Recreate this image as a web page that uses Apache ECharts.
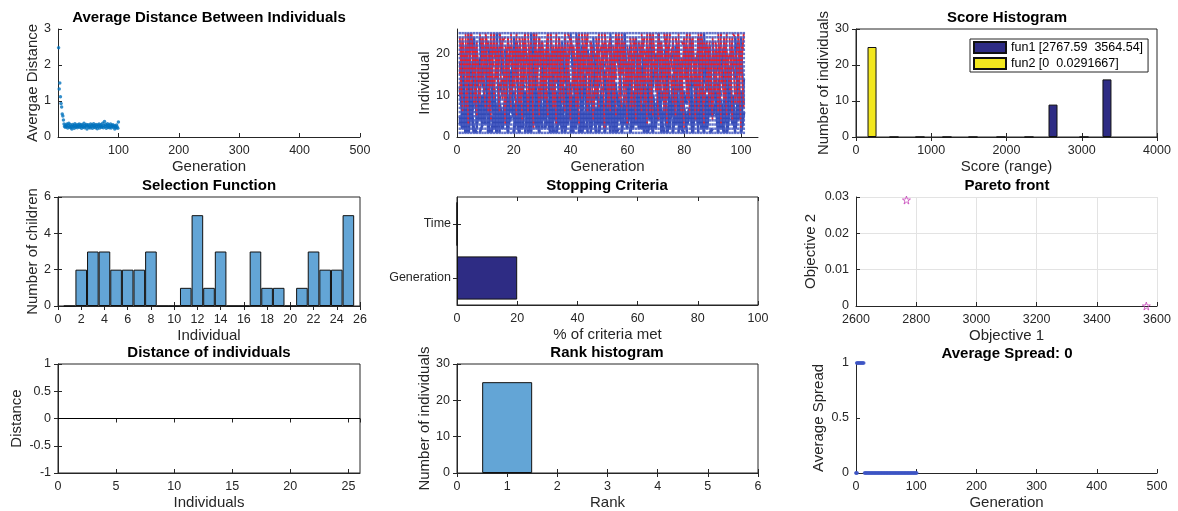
<!DOCTYPE html>
<html><head><meta charset="utf-8">
<script src="https://cdn.jsdelivr.net/npm/echarts@6/dist/echarts.min.js"></script>
<style>html,body{margin:0;padding:0;background:#fff}#c{width:1178px;height:511px}</style>
</head><body><div id="c"></div>
<script>
// ---------- DATA ----------
// Panel 1: average distance between individuals, generations 1..100
const avgDist = [2.48,1.33,1.50,1.12,0.93,0.83,0.64,0.58,0.47,0.36,
0.30,0.27,0.33,0.29,0.36,0.25,0.31,0.38,0.28,0.34,
0.26,0.30,0.22,0.35,0.29,0.31,0.24,0.37,0.28,0.33,
0.30,0.26,0.34,0.29,0.36,0.27,0.31,0.35,0.24,0.30,
0.33,0.28,0.38,0.26,0.32,0.29,0.35,0.22,0.31,0.34,
0.27,0.30,0.25,0.36,0.29,0.33,0.24,0.31,0.37,0.28,
0.32,0.26,0.35,0.30,0.23,0.33,0.29,0.36,0.25,0.31,
0.34,0.27,0.30,0.38,0.26,0.32,0.43,0.29,0.35,0.24,
0.31,0.37,0.28,0.33,0.26,0.30,0.36,0.25,0.32,0.29,
0.34,0.27,0.31,0.22,0.30,0.26,0.33,0.28,0.24,0.42];

// Panel 2: genealogy (parent at generation g -> child at generation g+1), g = 1..100
const redA_p = [24,21,25,19,23,22,18,25,20,24,17,23,25,21,19,24,22,20,25,18,23,21,24,19,25,22,17,20,24,23,21,25,18,22,19,24,20,25,23,17,21,24,22,19,25,20,23,18,24,21,25,22,19,23,20,24,17,25,21,22,18,24,23,20,25,19,22,21,24,18,25,23,20,22,17,24,21,25,19,23,22,20,24,18,25,21,23,19,22,24,20,25,17,23,21,24,22,18,25,20];
const redA_c = [6,12,3,9,15,5,8,20,7,11,4,10,14,6,9,3,18,7,12,5,8,4,13,6,10,2,16,5,9,12,5,11,7,3,14,8,6,10,4,17,7,3,9,12,6,8,4,15,7,10,2,11,6,9,5,19,7,8,3,13,7,4,10,6,16,3,9,5,12,4,9,6,3,14,8,5,11,6,2,9,5,13,4,8,10,3,17,7,4,11,6,3,9,5,12,4,8,15,2,7];
const redB_p = [10,15,7,22,11,8,18,9,13,25,6,20,9,14,12,23,7,16,10,12,19,8,10,24,6,15,11,21,8,11,9,17,13,7,22,9,12,14,25,7,12,8,19,10,16,8,23,6,10,13,20,14,7,11,9,24,9,17,12,13,7,21,10,15,10,8,18,6,25,11,11,16,8,9,19,13,7,22,10,14,9,12,17,12,6,24,8,15,10,7,21,7,13,9,18,11,25,8,8,16];
const redB_c = [22,18,25,16,20,23,15,24,19,21,25,17,23,20,14,24,19,22,16,25,18,21,24,15,22,20,25,17,23,19,24,16,21,25,18,22,14,20,23,17,19,25,15,22,24,18,21,16,25,20,23,17,22,19,25,15,24,20,18,21,16,24,20,23,17,25,19,22,15,24,21,19,25,18,22,16,23,14,24,20,25,22,17,24,19,21,15,23,20,18,17,23,20,25,16,22,24,19,21,25];
const redC_p = [15,23,19,13,25,17,21,14,24,18,20,12,22,16,25,19,14,23,17,21,13,24,18,22,15,20,25,12,19,23,17,14,25,21,13,23,18,20,16,24,22,19,12,25,18,15,23,21,14,20,16,25,20,13,22,18,24,15,21,12,24,17,14,23,19,21,13,25,18,16,19,22,25,15,20,12,24,17,23,14,14,20,23,18,12,25,16,22,13,21,23,15,19,24,17,13,21,18,25,22];
const redC_c = [24,16,21,25,18,22,13,20,15,23,14,25,17,22,19,12,24,18,21,16,22,13,25,17,23,19,15,24,20,14,25,20,15,18,24,13,22,16,23,19,13,23,21,16,25,20,14,18,24,22,21,18,24,19,14,25,16,23,12,20,15,22,19,13,24,17,25,20,16,23,23,14,18,25,16,21,19,13,22,25,20,24,12,21,25,16,23,14,19,17,18,25,22,14,20,24,17,23,15,21];
const blueA_p = [5,2,9,1,7,11,3,8,4,10,6,1,12,3,8,2,10,5,7,1,4,9,2,11,6,1,8,3,12,5,2,7,10,4,1,9,5,12,3,6,8,3,1,6,11,4,2,9,7,1,10,5,3,12,2,7,9,1,6,4,1,11,6,3,8,2,12,5,10,3,7,4,9,1,5,11,3,8,2,6,3,10,1,7,4,12,6,2,9,5,11,2,8,5,1,6,10,4,7,3];
const blueA_c = [2,8,4,10,1,6,12,3,9,5,11,4,1,7,3,9,2,12,5,8,1,6,10,3,8,12,4,7,2,9,9,3,1,11,6,2,8,4,10,1,4,12,7,2,9,5,11,1,3,8,2,9,6,1,11,4,3,10,8,12,7,3,10,12,1,6,4,9,2,11,10,1,5,8,12,3,7,2,11,4,6,2,11,4,9,1,3,10,5,8,1,9,4,12,7,10,2,6,11,3];
const blueB_p = [12,20,3,17,7,24,10,1,15,22,9,18,2,25,13,6,21,4,16,11,23,5,14,1,19,8,25,11,3,17,6,22,10,16,2,20,13,24,7,1,18,9,24,4,14,21,1,12,19,6,3,16,11,22,8,1,19,5,25,10,14,2,23,8,17,12,4,21,9,20,25,11,6,19,3,15,22,1,13,7,10,21,4,16,24,2,11,18,6,23,5,13,20,9,1,17,7,24,14,2];
const blueB_c = [4,1,14,6,18,2,9,3,11,1,16,3,7,1,10,5,2,13,4,8,1,12,5,9,3,15,2,6,19,4,11,2,17,3,8,1,6,4,13,10,2,7,3,15,1,9,5,20,3,12,8,4,1,6,13,2,10,3,7,16,3,11,2,17,5,1,14,6,4,9,1,8,15,2,10,4,3,12,6,1,13,4,7,1,3,18,2,9,5,10,6,2,12,4,16,3,1,8,5,14];
const blueC_p = [3,7,1,9,5,2,8,4,10,6,1,5,9,2,7,4,10,3,6,8,7,2,5,10,1,8,3,9,4,6,9,4,2,6,10,3,7,1,5,8,2,8,6,1,4,10,5,7,3,9,6,1,10,4,8,2,9,5,7,3,4,9,3,7,2,6,1,10,8,5,8,3,7,5,9,1,4,6,2,10,5,10,4,8,3,7,2,9,1,6,10,6,8,3,6,9,5,2,4,1];
const blueC_c = [6,2,8,4,9,1,5,10,3,7,9,3,6,10,2,8,1,5,7,4,2,8,10,5,7,3,9,1,6,4,5,1,7,9,3,6,2,8,10,4,8,4,1,6,10,2,7,3,9,5,3,9,5,8,1,7,4,6,2,10,10,5,7,2,6,9,3,1,8,4,4,7,2,9,5,10,6,3,1,8,7,1,9,3,8,4,10,5,2,6,5,3,1,7,4,8,2,9,10,6];
const blueD_p = [18,13,22,25,15,20,12,24,17,21,23,16,19,12,25,14,21,18,13,24,15,22,13,20,17,25,19,14,23,16,20,12,24,17,21,15,23,13,18,25,14,25,18,22,13,19,16,24,20,12,22,17,14,25,19,12,21,16,23,15,13,20,24,16,22,18,14,25,12,19,25,15,21,13,18,23,17,20,16,22,17,24,12,19,14,21,25,13,22,18,21,14,16,23,20,13,18,22,15,24];
const blueD_c = [10,17,6,14,21,8,19,12,5,16,13,7,20,11,15,9,18,6,22,14,8,16,12,19,5,14,10,21,13,7,17,11,9,15,7,20,13,16,8,12,6,14,19,10,17,12,21,9,15,18,11,20,8,13,16,6,15,18,10,22,19,9,14,21,12,17,7,13,20,11,14,12,18,8,20,10,16,5,19,13,9,18,15,6,22,13,11,20,7,17,16,10,21,12,9,18,14,7,20,8];
const genealogyGenerations = 101;
const populationSize = 25;

// Panel 3: score histogram
const fun1Name = 'fun1 [2767.59  3564.54]';
const fun2Name = 'fun2 [0  0.0291667]';
const fun1BinX = [505, 850, 1209, 1555, 1927, 2299, 2618, 3030, 3335];
const fun1Counts = [0, 0, 0, 0, 0, 0, 9, 0, 16];
const fun2BinX = [213];
const fun2Counts = [25];

// Panel 4: selection function
const selIndividuals = [1,2,3,4,5,6,7,8,9,10,11,12,13,14,15,16,17,18,19,20,21,22,23,24,25];
const selChildren    = [0,2,3,3,2,2,2,3,0,0,1,5,1,3,0,0,3,1,1,0,1,3,2,2,5];

// Panel 5: stopping criteria
const stopCriteria = ['Generation', 'Time'];
const stopPercent = [20, 0];

// Panel 6: pareto front
const paretoObj1 = [2767.59, 3564.54];
const paretoObj2 = [0.0291667, 0];

// Panel 7: distance of individuals
const distIndividuals = [1,2,3,4,5,6,7,8,9,10,11,12,13,14,15,16,17,18,19,20,21,22,23,24,25];
const distValues = [0,0,0,0,0,0,0,0,0,0,0,0,0,0,0,0,0,0,0,0,0,0,0,0,0];

// Panel 8: rank histogram
const rankValues = [1];
const rankCounts = [25];

// Panel 9: average spread
const spreadGens = [0,1,2,3,4,5,6,7,8,9,10,11,12,13,14,15,16,17,18,19,20,21,22,23,24,25,26,27,28,29,30,31,32,33,34,35,36,37,38,39,40,41,42,43,44,45,46,47,48,49,50,51,52,53,54,55,56,57,58,59,60,61,62,63,64,65,66,67,68,69,70,71,72,73,74,75,76,77,78,79,80,81,82,83,84,85,86,87,88,89,90,91,92,93,94,95,96,97,98,99,100,101];
const spreadVals = [0,1,1,1,1,1,1,1,1,1,1,1,1,1,0,0,0,0,0,0,0,0,0,0,0,0,0,0,0,0,0,0,0,0,0,0,0,0,0,0,0,0,0,0,0,0,0,0,0,0,0,0,0,0,0,0,0,0,0,0,0,0,0,0,0,0,0,0,0,0,0,0,0,0,0,0,0,0,0,0,0,0,0,0,0,0,0,0,0,0,0,0,0,0,0,0,0,0,0,0,0,0];
const spreadLowStart = [0, 1, 2];

// ---------- CHART ----------
const FONT = 'Liberation Sans, Arial, sans-serif';
const AX = '#262626';
const TICKFS = 12.5;
const grids = [
  {left:58, top:29, width:302, height:108},
  {left:457, top:29, width:301, height:108},
  {left:856, top:29, width:301, height:108},
  {left:58, top:197, width:302, height:109},
  {left:457, top:197, width:301, height:108},
  {left:856, top:197, width:301, height:109},
  {left:58, top:364, width:302, height:109},
  {left:457, top:364, width:301, height:109},
  {left:856, top:363, width:301, height:111}
];
const boxed = [false,false,true,true,true,false,true,true,false];
const gridOpts = grids.map((g,i)=>Object.assign({show:boxed[i], borderColor:AX, borderWidth:1, backgroundColor:'transparent', containLabel:false}, g));

const plain = v => String(Math.round(v*1000)/1000);
function lab(extra){ return Object.assign({fontFamily:FONT,fontSize:TICKFS,color:AX,margin:7,formatter:plain}, extra||{}); }
function ax(extra){
  return Object.assign({
    type:'value', nameLocation:'middle',
    nameTextStyle:{fontFamily:FONT,fontSize:15,color:AX},
    axisLine:{show:true,onZero:false,lineStyle:{color:AX,width:1}},
    axisTick:{show:true,inside:true,length:4,lineStyle:{color:AX}},
    axisLabel:lab(),
    splitLine:{show:false}
  }, extra);
}
const yl = (gap)=>({nameGap:gap, nameRotate:90});
const gridLine = {show:true,lineStyle:{color:'#E3E3E3',width:1}};

const xAxes = [
  ax({gridIndex:0,min:0,max:500,interval:100,name:'Generation',nameGap:22,axisLabel:lab({formatter:v=>v===0?'':String(v)})}),
  ax({gridIndex:1,min:0,max:106,interval:20,name:'Generation',nameGap:22,axisLabel:lab({showMaxLabel:false})}),
  ax({gridIndex:2,min:0,max:4000,interval:1000,name:'Score (range)',nameGap:22}),
  ax({gridIndex:3,min:0,max:26,interval:2,name:'Individual',nameGap:22}),
  ax({gridIndex:4,min:0,max:100,interval:20,name:'% of criteria met',nameGap:22}),
  ax({gridIndex:5,min:2600,max:3600,interval:200,name:'Objective 1',nameGap:22,splitLine:gridLine}),
  ax({gridIndex:6,min:0,max:26,interval:5,name:'Individuals',nameGap:22,axisLabel:lab({showMaxLabel:false})}),
  ax({gridIndex:7,min:0,max:6,interval:1,name:'Rank',nameGap:22}),
  ax({gridIndex:8,min:0,max:500,interval:100,name:'Generation',nameGap:22})
];
const yAxes = [
  ax(Object.assign({gridIndex:0,min:0,max:3,interval:1,name:'Avergae Distance'},yl(17))),
  ax(Object.assign({gridIndex:1,min:0,max:26,interval:10,name:'Individual',axisLabel:lab({showMaxLabel:false})},yl(25))),
  ax(Object.assign({gridIndex:2,min:0,max:30,interval:10,name:'Number of individuals'},yl(25))),
  ax(Object.assign({gridIndex:3,min:0,max:6,interval:2,name:'Number of children'},yl(17))),
  ax({gridIndex:4,type:'category',data:stopCriteria,axisTick:{show:true,inside:true,length:4,alignWithLabel:true,lineStyle:{color:AX}},axisLabel:lab({margin:6,formatter:null})}),
  ax(Object.assign({gridIndex:5,min:0,max:0.03,interval:0.01,name:'Objective 2',splitLine:gridLine},yl(38))),
  ax(Object.assign({gridIndex:6,min:-1,max:1,interval:0.5,name:'Distance'},yl(34))),
  ax(Object.assign({gridIndex:7,min:0,max:30,interval:10,name:'Number of individuals'},yl(25))),
  ax(Object.assign({gridIndex:8,min:0,max:1,interval:0.5,name:'Average Spread'},yl(30)))
];
// mirrored tick marks on the top/right edges of boxed panels
const mirror = [
  {g:2,x:{min:0,max:4000,interval:1000},y:{min:0,max:30,interval:10}},
  {g:3,x:{min:0,max:26,interval:2},y:{min:0,max:6,interval:2}},
  {g:4,x:{min:0,max:100,interval:20},y:null},
  {g:6,x:{min:0,max:26,interval:5},y:{min:-1,max:1,interval:0.5}},
  {g:7,x:{min:0,max:6,interval:1},y:{min:0,max:30,interval:10}}
];
mirror.forEach(m=>{
  xAxes.push(Object.assign({type:'value',gridIndex:m.g,position:'top',axisLine:{show:false},axisLabel:{show:false},splitLine:{show:false},
    axisTick:{show:true,inside:true,length:4,lineStyle:{color:AX}}},m.x));
  if (m.y) yAxes.push(Object.assign({type:'value',gridIndex:m.g,position:'right',axisLine:{show:false},axisLabel:{show:false},splitLine:{show:false},
    axisTick:{show:true,inside:true,length:4,lineStyle:{color:AX}}},m.y));
  else yAxes.push({type:'category',data:stopCriteria,gridIndex:m.g,position:'right',axisLine:{show:false},axisLabel:{show:false},splitLine:{show:false},
    axisTick:{show:true,inside:true,length:4,alignWithLabel:true,lineStyle:{color:AX}}});
});

function titleAt(text,cx,top){
  return {text, left:cx, top, textAlign:'center', padding:0,
    textStyle:{fontFamily:FONT,fontWeight:'bold',fontSize:15,color:'#000'}};
}
const titles = [
  titleAt('Average Distance Between Individuals',209,10),
  titleAt('Score Histogram',1007,10),
  titleAt('Selection Function',209,178),
  titleAt('Stopping Criteria',607,178),
  titleAt('Pareto front',1007,178),
  titleAt('Distance of individuals',209,345),
  titleAt('Rank histogram',607,345),
  titleAt('Average Spread: 0',1007,346)
];

// genealogy
function lineData(P,C){
  return P.map((p,k)=>({coords:[[k+1,p],[k+2,C[k]]]}));
}
const dotGrid = [];
for (let g=1; g<=genealogyGenerations; g++) for (let i=1;i<=populationSize;i++) dotGrid.push([g,i]);
const BLUE='#3349B4', RED='#F01E26';
function linesSeries(data,color,w){
  return {type:'lines',coordinateSystem:'cartesian2d',xAxisIndex:1,yAxisIndex:1,polyline:false,silent:true,
    lineStyle:{color,width:w,opacity:1},data,animation:false};
}

const BARC = '#63A5D6', NAVY = '#2E2C84', YEL = '#F2E71E';
const starPath = 'path://M50,2 L61,37 L98,37 L68,59 L79,95 L50,73 L21,95 L32,59 L2,37 L39,37 Z';

const series = [
  {type:'scatter',xAxisIndex:0,yAxisIndex:0,symbolSize:3.5,itemStyle:{color:'#0072BD'},
   data:avgDist.map((v,k)=>[k+1,v])},
  {type:'scatter',xAxisIndex:1,yAxisIndex:1,symbol:'rect',symbolSize:2.5,silent:true,itemStyle:{color:'#4A5EC4',opacity:0.85},data:dotGrid},
  linesSeries(lineData(blueD_p,blueD_c),BLUE,2.2),
  linesSeries(lineData(blueB_p,blueB_c),BLUE,2.6),
  linesSeries(lineData(blueA_p,blueA_c),BLUE,3.2),
  linesSeries(lineData(blueC_p,blueC_c),BLUE,3.2),
  linesSeries(lineData(redB_p,redB_c),RED,1.9),
  linesSeries(lineData(redC_p,redC_c),RED,2.1),
  linesSeries(lineData(redA_p,redA_c),RED,1.7),
  {type:'bar',name:fun1Name,xAxisIndex:2,yAxisIndex:2,barWidth:9,barGap:'-100%',
   itemStyle:{color:NAVY,borderColor:'#111',borderWidth:1},data:fun1BinX.map((x,k)=>[x,fun1Counts[k]])},
  {type:'bar',name:fun2Name,xAxisIndex:2,yAxisIndex:2,barWidth:9,barGap:'-100%',
   itemStyle:{color:YEL,borderColor:'#111',borderWidth:1},data:fun2BinX.map((x,k)=>[x,fun2Counts[k]])},
  {type:'bar',xAxisIndex:3,yAxisIndex:3,barWidth:11.6,
   itemStyle:{color:BARC,borderColor:'#111',borderWidth:1},data:selIndividuals.map((x,k)=>[x,selChildren[k]])},
  {type:'bar',xAxisIndex:4,yAxisIndex:4,barWidth:'80%',
   itemStyle:{color:NAVY,borderColor:'#111',borderWidth:1},data:stopPercent},
  {type:'scatter',xAxisIndex:5,yAxisIndex:5,symbol:starPath,symbolSize:8,
   itemStyle:{color:'transparent',borderColor:'#C540B8',borderWidth:1},data:paretoObj1.map((x,k)=>[x,paretoObj2[k]])},
  {type:'line',xAxisIndex:6,yAxisIndex:6,showSymbol:false,lineStyle:{color:'#000',width:1},
   data:distIndividuals.map((x,k)=>[x,distValues[k]]),
   markLine:{silent:true,symbol:'none',label:{show:false},lineStyle:{color:'#000',width:1,type:'solid'},data:[{yAxis:0}]}},
  {type:'bar',xAxisIndex:7,yAxisIndex:7,barWidth:50,
   itemStyle:{color:BARC,borderColor:'#111',borderWidth:1},data:rankValues.map((x,k)=>[x,rankCounts[k]])},
  {type:'scatter',xAxisIndex:8,yAxisIndex:8,symbolSize:3.5,itemStyle:{color:'#3D55C4'},
   data:spreadGens.map((g,k)=>[g,spreadVals[k]]).concat(spreadLowStart.map(g=>[g,0]))}
];

const chart = echarts.init(document.getElementById('c'), null, {renderer:'canvas'});
chart.setOption({
  animation:false,
  backgroundColor:'#fff',
  textStyle:{fontFamily:FONT},
  title:titles,
  grid:gridOpts,
  xAxis:xAxes,
  yAxis:yAxes,
  legend:{data:[fun1Name,fun2Name],left:970,top:39,orient:'vertical',icon:'rect',itemWidth:32,itemHeight:11,itemGap:3,
    padding:[2,5,2,3],borderColor:AX,borderWidth:1,backgroundColor:'#fff',
    textStyle:{fontFamily:FONT,fontSize:12.5,color:'#000'}},
  series
});
</script></body></html>
